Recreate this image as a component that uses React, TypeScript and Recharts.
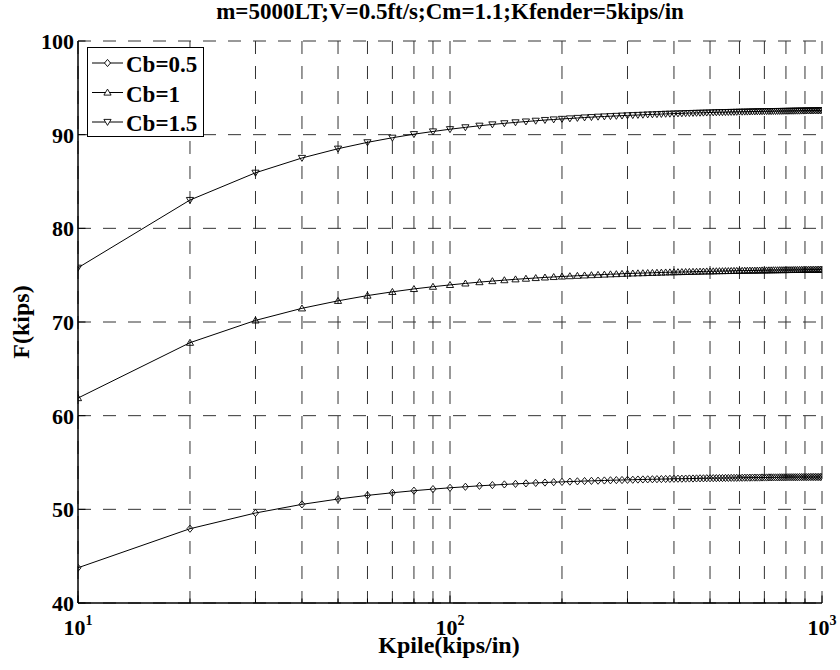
import React from 'react';
import { LineChart, Line, XAxis, YAxis, CartesianGrid, Legend, Customized } from 'recharts';

const FONT = '"Liberation Serif","Times New Roman",Times,serif';

const chartTitle = 'm=5000LT;V=0.5ft/s;Cm=1.1;Kfender=5kips/in';
const xLabel = 'Kpile(kips/in)';
const yLabel = 'F(kips)';

const kpile = [
  10, 20, 30, 40, 50, 60, 70, 80, 90, 100,
  110, 120, 130, 140, 150, 160, 170, 180, 190, 200,
  210, 220, 230, 240, 250, 260, 270, 280, 290, 300,
  310, 320, 330, 340, 350, 360, 370, 380, 390, 400,
  410, 420, 430, 440, 450, 460, 470, 480, 490, 500,
  510, 520, 530, 540, 550, 560, 570, 580, 590, 600,
  610, 620, 630, 640, 650, 660, 670, 680, 690, 700,
  710, 720, 730, 740, 750, 760, 770, 780, 790, 800,
  810, 820, 830, 840, 850, 860, 870, 880, 890, 900,
  910, 920, 930, 940, 950, 960, 970, 980, 990, 1000,
];

const fCb05 = [
  43.76, 47.93, 49.61, 50.53, 51.10, 51.49, 51.77, 51.99, 52.16, 52.30,
  52.41, 52.51, 52.59, 52.66, 52.72, 52.77, 52.82, 52.86, 52.90, 52.93,
  52.96, 52.99, 53.02, 53.04, 53.06, 53.08, 53.10, 53.12, 53.13, 53.15,
  53.16, 53.18, 53.19, 53.20, 53.21, 53.22, 53.23, 53.24, 53.25, 53.26,
  53.27, 53.27, 53.28, 53.29, 53.29, 53.30, 53.31, 53.31, 53.32, 53.32,
  53.33, 53.33, 53.34, 53.34, 53.35, 53.35, 53.36, 53.36, 53.36, 53.37,
  53.37, 53.38, 53.38, 53.38, 53.39, 53.39, 53.39, 53.39, 53.40, 53.40,
  53.40, 53.41, 53.41, 53.41, 53.41, 53.41, 53.42, 53.42, 53.42, 53.42,
  53.43, 53.43, 53.43, 53.43, 53.43, 53.43, 53.44, 53.44, 53.44, 53.44,
  53.44, 53.44, 53.45, 53.45, 53.45, 53.45, 53.45, 53.45, 53.45, 53.46,
];

const fCb1 = [
  61.88, 67.79, 70.17, 71.46, 72.26, 72.82, 73.22, 73.53, 73.77, 73.96,
  74.12, 74.26, 74.37, 74.47, 74.56, 74.63, 74.70, 74.76, 74.81, 74.86,
  74.90, 74.94, 74.98, 75.01, 75.04, 75.07, 75.10, 75.12, 75.15, 75.17,
  75.19, 75.21, 75.22, 75.24, 75.25, 75.27, 75.28, 75.30, 75.31, 75.32,
  75.33, 75.34, 75.35, 75.36, 75.37, 75.38, 75.39, 75.40, 75.41, 75.41,
  75.42, 75.43, 75.44, 75.44, 75.45, 75.45, 75.46, 75.47, 75.47, 75.48,
  75.48, 75.49, 75.49, 75.50, 75.50, 75.50, 75.51, 75.51, 75.52, 75.52,
  75.52, 75.53, 75.53, 75.54, 75.54, 75.54, 75.55, 75.55, 75.55, 75.55,
  75.56, 75.56, 75.56, 75.57, 75.57, 75.57, 75.57, 75.58, 75.58, 75.58,
  75.58, 75.59, 75.59, 75.59, 75.59, 75.59, 75.60, 75.60, 75.60, 75.60,
];

const fCb15 = [
  75.79, 83.02, 85.93, 87.51, 88.50, 89.18, 89.67, 90.05, 90.34, 90.58,
  90.78, 90.95, 91.09, 91.21, 91.31, 91.40, 91.48, 91.56, 91.62, 91.68,
  91.73, 91.78, 91.83, 91.87, 91.91, 91.94, 91.97, 92.00, 92.03, 92.06,
  92.08, 92.10, 92.12, 92.15, 92.16, 92.18, 92.20, 92.22, 92.23, 92.25,
  92.26, 92.27, 92.29, 92.30, 92.31, 92.32, 92.33, 92.34, 92.35, 92.36,
  92.37, 92.38, 92.39, 92.39, 92.40, 92.41, 92.42, 92.42, 92.43, 92.44,
  92.44, 92.45, 92.45, 92.46, 92.47, 92.47, 92.48, 92.48, 92.49, 92.49,
  92.50, 92.50, 92.50, 92.51, 92.51, 92.52, 92.52, 92.52, 92.53, 92.53,
  92.53, 92.54, 92.54, 92.54, 92.55, 92.55, 92.55, 92.56, 92.56, 92.56,
  92.57, 92.57, 92.57, 92.57, 92.58, 92.58, 92.58, 92.58, 92.59, 92.59,
];

const seriesNames = ['Cb=0.5', 'Cb=1', 'Cb=1.5'];

const xTicks = [10, 20, 30, 40, 50, 60, 70, 80, 90, 100, 200, 300, 400, 500, 600, 700, 800, 900, 1000];
const xMajorTicks = [10, 100, 1000];
const xMajorExponents = ['1', '2', '3'];
const yTicks = [40, 50, 60, 70, 80, 90, 100];

const data = kpile.map((k, i) => ({ k, a: fCb05[i], b: fCb1[i], c: fCb15[i] }));

const MAJOR = 7.5;
const MINOR = 4.5;

type MarkerKind = 'diamond' | 'up' | 'down';

function markerPath(kind: MarkerKind, cx: number, cy: number): string {
  if (kind === 'diamond') {
    return `M${cx},${cy - 3.6}L${cx + 3},${cy}L${cx},${cy + 3.6}L${cx - 3},${cy}Z`;
  }
  if (kind === 'up') {
    return `M${cx},${cy - 3.4}L${cx + 3.6},${cy + 2.6}L${cx - 3.6},${cy + 2.6}Z`;
  }
  return `M${cx},${cy + 3.4}L${cx + 3.6},${cy - 2.6}L${cx - 3.6},${cy - 2.6}Z`;
}

const markerByKey: Record<string, MarkerKind> = { a: 'diamond', b: 'up', c: 'down' };

const makeDot = (kind: MarkerKind) => (props: any) => {
  const { cx, cy, index } = props;
  if (cx == null || cy == null) return <g key={index} />;
  return <path key={index} d={markerPath(kind, cx, cy)} fill="none" stroke="#000" strokeWidth={0.9} />;
};

const BottomTick = (props: any) => {
  const { x, y, payload } = props;
  const v = payload.value;
  const mi = xMajorTicks.indexOf(v);
  return (
    <g>
      <line x1={x} x2={x} y1={y} y2={y - (mi >= 0 ? MAJOR : MINOR)} stroke="#000" strokeWidth={1} />
      {mi >= 0 && (
        <text x={x} y={y + 32} textAnchor="middle" fontFamily={FONT} fontWeight="bold" fontSize={22} fill="#000">
          <tspan>10</tspan>
          <tspan dy={-10} fontSize={14}>{xMajorExponents[mi]}</tspan>
        </text>
      )}
    </g>
  );
};

const TopTick = (props: any) => {
  const { x, y, payload } = props;
  const major = xMajorTicks.indexOf(payload.value) >= 0;
  return <line x1={x} x2={x} y1={y} y2={y + (major ? MAJOR : MINOR)} stroke="#000" strokeWidth={1} />;
};

const LeftTick = (props: any) => {
  const { x, y, payload } = props;
  return (
    <g>
      <line x1={x} x2={x + MAJOR} y1={y} y2={y} stroke="#000" strokeWidth={1} />
      <text x={x - 4} y={y + 8} textAnchor="end" fontFamily={FONT} fontWeight="bold" fontSize={22} fill="#000">
        {payload.value}
      </text>
    </g>
  );
};

const RightTick = (props: any) => {
  const { x, y } = props;
  return <line x1={x} x2={x - MAJOR} y1={y} y2={y} stroke="#000" strokeWidth={1} />;
};

const LegendBox = (props: any) => {
  const payload = props.payload || [];
  return (
    <div style={{ border: '1px solid #000', background: '#fff', width: 115, height: 88, lineHeight: 0 }}>
      <svg width={115} height={88}>
        {payload.map((p: any, i: number) => {
          const cy = 15 + i * 29.5;
          const kind = markerByKey[p.dataKey as string] || 'diamond';
          return (
            <g key={i}>
              <line x1={4} x2={35} y1={cy} y2={cy} stroke="#000" strokeWidth={1} />
              <path d={markerPath(kind, 19.5, cy)} fill="#fff" stroke="#000" strokeWidth={0.9} />
              <text x={38} y={cy + 9} fontFamily={FONT} fontWeight="bold" fontSize={23} fill="#000">
                {p.value}
              </text>
            </g>
          );
        })}
      </svg>
    </div>
  );
};

const Labels = () => (
  <g>
    <text x={450} y={19} textAnchor="middle" fontFamily={FONT} fontWeight="bold" fontSize={23} fill="#000">
      {chartTitle}
    </text>
    <text x={449} y={653} textAnchor="middle" fontFamily={FONT} fontWeight="bold" fontSize={24} fill="#000">
      {xLabel}
    </text>
    <text
      x={0}
      y={0}
      transform="translate(29,322) rotate(-90)"
      textAnchor="middle"
      fontFamily={FONT}
      fontWeight="bold"
      fontSize={24}
      fill="#000"
    >
      {yLabel}
    </text>
  </g>
);

export default function App() {
  return (
    <div style={{ position: 'absolute', left: 0, top: 0, width: 840, height: 670, background: '#fff' }}>
      <LineChart width={840} height={670} data={data} margin={{ top: 41, right: 18, left: 0, bottom: 0 }}>
        <CartesianGrid stroke="#333" strokeWidth={1} strokeDasharray="13 12" />
        <XAxis
          dataKey="k"
          type="number"
          scale="log"
          domain={[10, 1000]}
          allowDataOverflow
          ticks={xTicks}
          interval={0}
          height={67}
          tickSize={0}
          tickMargin={0}
          tick={<BottomTick />}
          axisLine={{ stroke: '#000', strokeWidth: 1.5 }}
          tickLine={false}
        />
        <XAxis
          xAxisId="top"
          orientation="top"
          dataKey="k"
          type="number"
          scale="log"
          domain={[10, 1000]}
          allowDataOverflow
          ticks={xTicks}
          interval={0}
          height={0}
          tickSize={0}
          tickMargin={0}
          tick={<TopTick />}
          axisLine={{ stroke: '#000', strokeWidth: 1.5 }}
          tickLine={false}
        />
        <YAxis
          type="number"
          domain={[40, 100]}
          allowDataOverflow
          ticks={yTicks}
          interval={0}
          width={78}
          tickSize={0}
          tickMargin={0}
          tick={<LeftTick />}
          axisLine={{ stroke: '#000', strokeWidth: 1.5 }}
          tickLine={false}
        />
        <YAxis
          yAxisId="right"
          orientation="right"
          type="number"
          domain={[40, 100]}
          allowDataOverflow
          ticks={yTicks}
          interval={0}
          width={0}
          tickSize={0}
          tickMargin={0}
          tick={<RightTick />}
          axisLine={{ stroke: '#000', strokeWidth: 1.5 }}
          tickLine={false}
        />
        <Line dataKey="a" name={seriesNames[0]} stroke="#000" strokeWidth={1} dot={makeDot('diamond')} isAnimationActive={false} />
        <Line dataKey="b" name={seriesNames[1]} stroke="#000" strokeWidth={1} dot={makeDot('up')} isAnimationActive={false} />
        <Line dataKey="c" name={seriesNames[2]} stroke="#000" strokeWidth={1} dot={makeDot('down')} isAnimationActive={false} />
        <Legend
          layout="vertical"
          align="center"
          verticalAlign="middle"
          content={<LegendBox />}
          wrapperStyle={{ position: 'absolute', left: 87, top: 47, width: 'auto', height: 'auto', margin: 0 }}
        />
        <Customized component={Labels} />
      </LineChart>
    </div>
  );
}
